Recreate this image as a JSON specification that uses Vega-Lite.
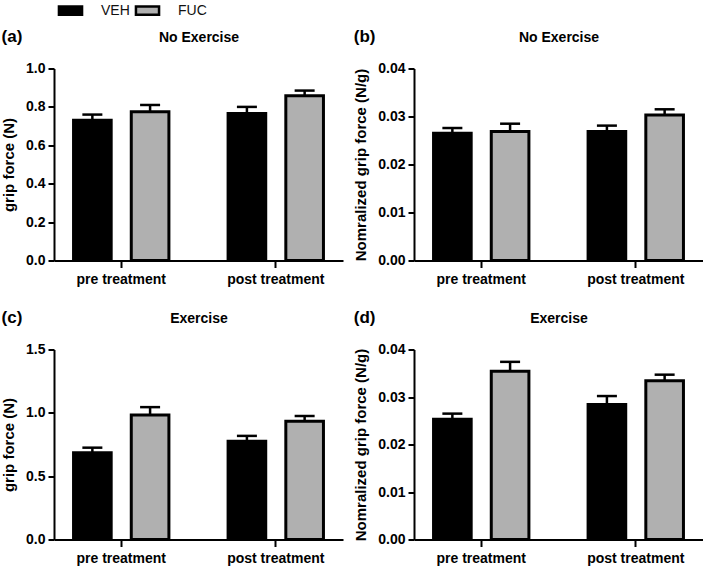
{
  "$schema": "https://vega.github.io/schema/vega-lite/v6.json",
  "padding": {"left": 1, "top": 1.5, "right": 0, "bottom": 0},
  "datasets": {
    "grip": [
      {"panel": "a", "time": "pre treatment", "group": "VEH", "mean": 0.73, "upper": 0.76},
      {"panel": "a", "time": "pre treatment", "group": "FUC", "mean": 0.775, "upper": 0.81},
      {"panel": "a", "time": "post treatment", "group": "VEH", "mean": 0.765, "upper": 0.8},
      {"panel": "a", "time": "post treatment", "group": "FUC", "mean": 0.858, "upper": 0.885},
      {"panel": "b", "time": "pre treatment", "group": "VEH", "mean": 0.0265, "upper": 0.0276},
      {"panel": "b", "time": "pre treatment", "group": "FUC", "mean": 0.0269, "upper": 0.0285},
      {"panel": "b", "time": "post treatment", "group": "VEH", "mean": 0.0269, "upper": 0.0281},
      {"panel": "b", "time": "post treatment", "group": "FUC", "mean": 0.0303, "upper": 0.0315},
      {"panel": "c", "time": "pre treatment", "group": "VEH", "mean": 0.685, "upper": 0.725},
      {"panel": "c", "time": "pre treatment", "group": "FUC", "mean": 0.982, "upper": 1.045},
      {"panel": "c", "time": "post treatment", "group": "VEH", "mean": 0.775, "upper": 0.818},
      {"panel": "c", "time": "post treatment", "group": "FUC", "mean": 0.933, "upper": 0.975},
      {"panel": "d", "time": "pre treatment", "group": "VEH", "mean": 0.0253, "upper": 0.0265},
      {"panel": "d", "time": "pre treatment", "group": "FUC", "mean": 0.0354, "upper": 0.0374},
      {"panel": "d", "time": "post treatment", "group": "VEH", "mean": 0.0284, "upper": 0.0302},
      {"panel": "d", "time": "post treatment", "group": "FUC", "mean": 0.0334, "upper": 0.0347}
    ]
  },
  "data": {"name": "grip"},
  "columns": 2,
  "spacing": {"column": 10, "row": 22},
  "concat": [
    {
      "width": 289, "height": 192,
      "title": {"text": "(a)", "anchor": "start", "frame": "bounds", "offset": -15},
      "transform": [{"filter": "datum.panel === 'a'"}],
      "layer": [
        {
          "mark": {"type": "bar", "stroke": "black", "strokeWidth": 3},
          "encoding": {
            "x": {"field": "time", "type": "nominal", "sort": ["pre treatment", "post treatment"], "scale": {"paddingInner": 0.25, "paddingOuter": 0.06}, "axis": {"title": null, "orient": "bottom"}},
            "xOffset": {"field": "group", "type": "nominal", "sort": ["VEH", "FUC"], "scale": {"paddingInner": 0.348, "paddingOuter": 0.178}},
            "y": {"field": "mean", "type": "quantitative", "scale": {"domain": [0, 1], "nice": false}, "axis": {"title": "grip force (N)", "values": [0, 0.2, 0.4, 0.6, 0.8, 1.0], "format": ".1f"}},
            "color": {"field": "group", "type": "nominal", "sort": ["VEH", "FUC"], "scale": {"domain": ["VEH", "FUC"], "range": ["#000000", "#b0b0b0"]}, "legend": {"title": null, "orient": "none", "legendX": 8, "legendY": -66.5, "direction": "horizontal", "symbolType": "M-1.65,-0.6H1.65V0.6H-1.65Z", "symbolSize": 196, "symbolStrokeColor": "black", "symbolStrokeWidth": 2.5, "symbolOpacity": 1, "labelFontSize": 14, "labelFontWeight": "normal", "labelColor": "#111111", "labelOffset": 22, "columnPadding": 0}}
          }
        },
        {
          "mark": {"type": "rule", "strokeWidth": 2.5, "color": "black"},
          "encoding": {
            "x": {"field": "time", "type": "nominal", "sort": ["pre treatment", "post treatment"], "axis": {"orient": "top", "title": "No Exercise", "labels": false, "ticks": false, "domain": false, "titlePadding": 24, "titleFontSize": 14}},
            "xOffset": {"field": "group", "type": "nominal", "sort": ["VEH", "FUC"]},
            "y": {"field": "mean", "type": "quantitative", "axis": {"title": "grip force (N)", "values": [0, 0.2, 0.4, 0.6, 0.8, 1.0], "format": ".1f"}},
            "y2": {"field": "upper"}
          }
        },
        {
          "mark": {"type": "tick", "orient": "horizontal", "size": 20, "thickness": 2.5, "color": "black", "opacity": 1},
          "encoding": {
            "x": {"field": "time", "type": "nominal", "sort": ["pre treatment", "post treatment"], "axis": null},
            "xOffset": {"field": "group", "type": "nominal", "sort": ["VEH", "FUC"]},
            "y": {"field": "upper", "type": "quantitative", "axis": {"title": "grip force (N)", "values": [0, 0.2, 0.4, 0.6, 0.8, 1.0], "format": ".1f"}}
          }
        }
      ],
      "resolve": {"axis": {"x": "independent"}}
    },
    {
      "width": 289, "height": 192,
      "title": {"text": "(b)", "anchor": "start", "frame": "bounds", "offset": -15},
      "transform": [{"filter": "datum.panel === 'b'"}],
      "layer": [
        {
          "mark": {"type": "bar", "stroke": "black", "strokeWidth": 3},
          "encoding": {
            "x": {"field": "time", "type": "nominal", "sort": ["pre treatment", "post treatment"], "scale": {"paddingInner": 0.25, "paddingOuter": 0.06}, "axis": {"title": null, "orient": "bottom"}},
            "xOffset": {"field": "group", "type": "nominal", "sort": ["VEH", "FUC"], "scale": {"paddingInner": 0.348, "paddingOuter": 0.178}},
            "y": {"field": "mean", "type": "quantitative", "scale": {"domain": [0, 0.04], "nice": false}, "axis": {"title": "Nomralized grip force (N/g)", "values": [0, 0.01, 0.02, 0.03, 0.04], "format": ".2f"}},
            "color": {"field": "group", "type": "nominal", "sort": ["VEH", "FUC"]}
          }
        },
        {
          "mark": {"type": "rule", "strokeWidth": 2.5, "color": "black"},
          "encoding": {
            "x": {"field": "time", "type": "nominal", "sort": ["pre treatment", "post treatment"], "axis": {"orient": "top", "title": "No Exercise", "labels": false, "ticks": false, "domain": false, "titlePadding": 24, "titleFontSize": 14}},
            "xOffset": {"field": "group", "type": "nominal", "sort": ["VEH", "FUC"]},
            "y": {"field": "mean", "type": "quantitative", "axis": {"title": "Nomralized grip force (N/g)", "values": [0, 0.01, 0.02, 0.03, 0.04], "format": ".2f"}},
            "y2": {"field": "upper"}
          }
        },
        {
          "mark": {"type": "tick", "orient": "horizontal", "size": 20, "thickness": 2.5, "color": "black", "opacity": 1},
          "encoding": {
            "x": {"field": "time", "type": "nominal", "sort": ["pre treatment", "post treatment"], "axis": null},
            "xOffset": {"field": "group", "type": "nominal", "sort": ["VEH", "FUC"]},
            "y": {"field": "upper", "type": "quantitative", "axis": {"title": "Nomralized grip force (N/g)", "values": [0, 0.01, 0.02, 0.03, 0.04], "format": ".2f"}}
          }
        }
      ],
      "resolve": {"axis": {"x": "independent"}}
    },
    {
      "width": 289, "height": 190,
      "title": {"text": "(c)", "anchor": "start", "frame": "bounds", "offset": -15},
      "transform": [{"filter": "datum.panel === 'c'"}],
      "layer": [
        {
          "mark": {"type": "bar", "stroke": "black", "strokeWidth": 3},
          "encoding": {
            "x": {"field": "time", "type": "nominal", "sort": ["pre treatment", "post treatment"], "scale": {"paddingInner": 0.25, "paddingOuter": 0.06}, "axis": {"title": null, "orient": "bottom"}},
            "xOffset": {"field": "group", "type": "nominal", "sort": ["VEH", "FUC"], "scale": {"paddingInner": 0.348, "paddingOuter": 0.178}},
            "y": {"field": "mean", "type": "quantitative", "scale": {"domain": [0, 1.5], "nice": false}, "axis": {"title": "grip force (N)", "values": [0, 0.5, 1.0, 1.5], "format": ".1f"}},
            "color": {"field": "group", "type": "nominal", "sort": ["VEH", "FUC"]}
          }
        },
        {
          "mark": {"type": "rule", "strokeWidth": 2.5, "color": "black"},
          "encoding": {
            "x": {"field": "time", "type": "nominal", "sort": ["pre treatment", "post treatment"], "axis": {"orient": "top", "title": "Exercise", "labels": false, "ticks": false, "domain": false, "titlePadding": 24, "titleFontSize": 14}},
            "xOffset": {"field": "group", "type": "nominal", "sort": ["VEH", "FUC"]},
            "y": {"field": "mean", "type": "quantitative", "axis": {"title": "grip force (N)", "values": [0, 0.5, 1.0, 1.5], "format": ".1f"}},
            "y2": {"field": "upper"}
          }
        },
        {
          "mark": {"type": "tick", "orient": "horizontal", "size": 20, "thickness": 2.5, "color": "black", "opacity": 1},
          "encoding": {
            "x": {"field": "time", "type": "nominal", "sort": ["pre treatment", "post treatment"], "axis": null},
            "xOffset": {"field": "group", "type": "nominal", "sort": ["VEH", "FUC"]},
            "y": {"field": "upper", "type": "quantitative", "axis": {"title": "grip force (N)", "values": [0, 0.5, 1.0, 1.5], "format": ".1f"}}
          }
        }
      ],
      "resolve": {"axis": {"x": "independent"}}
    },
    {
      "width": 289, "height": 190,
      "title": {"text": "(d)", "anchor": "start", "frame": "bounds", "offset": -15},
      "transform": [{"filter": "datum.panel === 'd'"}],
      "layer": [
        {
          "mark": {"type": "bar", "stroke": "black", "strokeWidth": 3},
          "encoding": {
            "x": {"field": "time", "type": "nominal", "sort": ["pre treatment", "post treatment"], "scale": {"paddingInner": 0.25, "paddingOuter": 0.06}, "axis": {"title": null, "orient": "bottom"}},
            "xOffset": {"field": "group", "type": "nominal", "sort": ["VEH", "FUC"], "scale": {"paddingInner": 0.348, "paddingOuter": 0.178}},
            "y": {"field": "mean", "type": "quantitative", "scale": {"domain": [0, 0.04], "nice": false}, "axis": {"title": "Nomralized grip force (N/g)", "values": [0, 0.01, 0.02, 0.03, 0.04], "format": ".2f"}},
            "color": {"field": "group", "type": "nominal", "sort": ["VEH", "FUC"]}
          }
        },
        {
          "mark": {"type": "rule", "strokeWidth": 2.5, "color": "black"},
          "encoding": {
            "x": {"field": "time", "type": "nominal", "sort": ["pre treatment", "post treatment"], "axis": {"orient": "top", "title": "Exercise", "labels": false, "ticks": false, "domain": false, "titlePadding": 24, "titleFontSize": 14}},
            "xOffset": {"field": "group", "type": "nominal", "sort": ["VEH", "FUC"]},
            "y": {"field": "mean", "type": "quantitative", "axis": {"title": "Nomralized grip force (N/g)", "values": [0, 0.01, 0.02, 0.03, 0.04], "format": ".2f"}},
            "y2": {"field": "upper"}
          }
        },
        {
          "mark": {"type": "tick", "orient": "horizontal", "size": 20, "thickness": 2.5, "color": "black", "opacity": 1},
          "encoding": {
            "x": {"field": "time", "type": "nominal", "sort": ["pre treatment", "post treatment"], "axis": null},
            "xOffset": {"field": "group", "type": "nominal", "sort": ["VEH", "FUC"]},
            "y": {"field": "upper", "type": "quantitative", "axis": {"title": "Nomralized grip force (N/g)", "values": [0, 0.01, 0.02, 0.03, 0.04], "format": ".2f"}}
          }
        }
      ],
      "resolve": {"axis": {"x": "independent"}}
    }
  ],
  "config": {
    "font": "Liberation Sans",
    "view": {"stroke": null},
    "bar": {"opacity": 1},
    "axis": {
      "grid": false,
      "domainColor": "black", "domainWidth": 2,
      "tickColor": "black", "tickWidth": 2, "tickSize": 6,
      "labelFont": "Liberation Sans", "labelFontSize": 14, "labelFontWeight": "bold", "labelColor": "black", "labelPadding": 3,
      "titleFont": "Liberation Sans", "titleFontSize": 15, "titleFontWeight": "bold", "titleColor": "black"
    },
    "axisX": {"labelAngle": 0, "tickSize": 7, "labelPadding": 5},
    "axisY": {"titlePadding": 9},
    "title": {"font": "Liberation Sans", "fontSize": 17, "fontWeight": "bold", "color": "black"},
    "legend": {"labelFont": "Liberation Sans"}
  }
}
